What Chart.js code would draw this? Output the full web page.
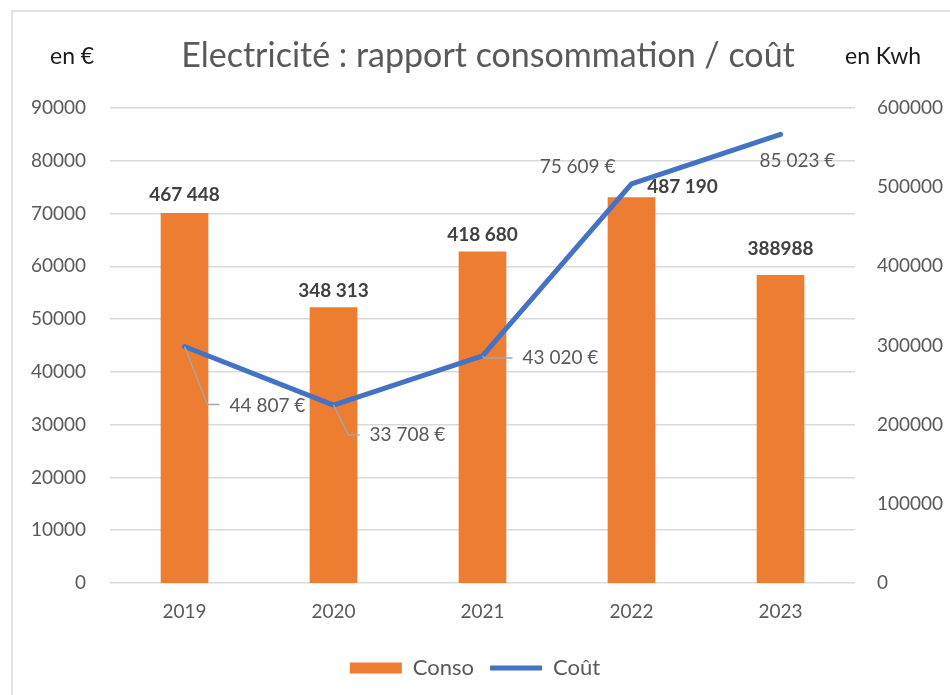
<!DOCTYPE html>
<html lang="fr">
<head>
<meta charset="UTF-8">
<title>Electricité : rapport consommation / coût</title>
<script src="https://cdn.jsdelivr.net/npm/chart.js"></script>
<style>
  body { margin: 0; background: #fff; }
</style>
</head>
<body>
<canvas id="elecChart" width="950" height="695"></canvas>
<script>
// données
const years = ['2019', '2020', '2021', '2022', '2023'];
const conso = [467448, 348313, 418680, 487190, 388988];   // en Kwh
const cout = [44807, 33708, 43020, 75609, 85023];         // en €
const consoLabels = ['467 448', '348 313', '418 680', '487 190', '388988'];
const coutLabels = ['44 807 €', '33 708 €', '43 020 €', '75 609 €', '85 023 €'];

const FONT = 'Lato, "Open Sans", sans-serif';

// placement des étiquettes (décalages en pixels par rapport au point)
const consoLabelShift = [[0, -9], [0, -7], [0, -7], [51, -1], [0, -17]];
const coutLabelShift = [
  { dx: 45, dy: 59, align: 'left', leader: [[23, 58], [35, 58]] },
  { dx: 36, dy: 30, align: 'left', leader: [[15, 30], [26, 30]] },
  { dx: 40, dy: 2, align: 'left', leader: [[2, 2], [30, 2]] },
  { dx: -16, dy: -17, align: 'right', leader: null },
  { dx: -21, dy: 27, align: 'left', leader: null }
];

const decorPlugin = {
  id: 'decor',
  beforeDraw(chart) {
    const ctx = chart.ctx;
    ctx.save();
    ctx.fillStyle = '#fff';
    ctx.fillRect(0, 0, chart.width, chart.height);
    // cadre gris clair
    ctx.strokeStyle = '#d9d9d9';
    ctx.lineWidth = 1.5;
    ctx.beginPath();
    ctx.moveTo(12, chart.height);
    ctx.lineTo(12, 11);
    ctx.lineTo(chart.width, 11);
    ctx.stroke();
    // titre et unités
    ctx.textBaseline = 'middle';
    ctx.textAlign = 'center';
    ctx.fillStyle = '#595959';
    ctx.font = '34px ' + FONT;
    ctx.fillText('Electricité : rapport consommation / coût', 488, 56);
    ctx.fillStyle = '#1a1a1a';
    ctx.font = '23px ' + FONT;
    ctx.textAlign = 'left';
    ctx.fillText('en €', 50, 57);
    ctx.fillText('en Kwh', 845, 57);
    ctx.restore();
  },
  afterDatasetsDraw(chart) {
    const ctx = chart.ctx;
    ctx.save();
    // étiquettes des barres
    const bars = chart.getDatasetMeta(0).data;
    ctx.font = 'bold 19px ' + FONT;
    ctx.fillStyle = '#404040';
    ctx.textAlign = 'center';
    ctx.textBaseline = 'bottom';
    bars.forEach((bar, i) => {
      const [dx, dy] = consoLabelShift[i];
      ctx.fillText(consoLabels[i], bar.x + dx, bar.y + dy);
    });
    // étiquettes de la courbe
    const pts = chart.getDatasetMeta(1).data;
    ctx.font = '19px ' + FONT;
    ctx.fillStyle = '#595959';
    ctx.textBaseline = 'middle';
    pts.forEach((pt, i) => {
      const s = coutLabelShift[i];
      if (s.leader) {
        ctx.strokeStyle = '#a6a6a6';
        ctx.lineWidth = 1.5;
        ctx.beginPath();
        ctx.moveTo(pt.x, pt.y);
        s.leader.forEach(([lx, ly]) => ctx.lineTo(pt.x + lx, pt.y + ly));
        ctx.stroke();
      }
      ctx.textAlign = s.align;
      ctx.fillText(coutLabels[i], pt.x + s.dx, pt.y + s.dy);
    });
    ctx.restore();
  }
};

const tickFont = { family: FONT, size: 19 };
const plain = v => String(v);

new Chart(document.getElementById('elecChart'), {
  data: {
    labels: years,
    datasets: [
      {
        type: 'bar',
        label: 'Conso',
        data: conso,
        yAxisID: 'y1',
        backgroundColor: '#ED7D31',
        borderWidth: 0,
        pointStyle: 'rect',
        barPercentage: 1,
        categoryPercentage: 0.32,
        order: 2
      },
      {
        type: 'line',
        label: 'Coût',
        data: cout,
        yAxisID: 'y',
        borderColor: '#4472C4',
        backgroundColor: '#4472C4',
        borderWidth: 5,
        borderCapStyle: 'round',
        borderJoinStyle: 'round',
        pointRadius: 0,
        pointStyle: 'line',
        tension: 0,
        order: 1
      }
    ]
  },
  options: {
    responsive: false,
    devicePixelRatio: 1,
    animation: false,
    layout: { padding: { top: 108, left: 0, right: 0, bottom: 6 } },
    plugins: {
      title: { display: false },
      tooltip: { enabled: false },
      legend: {
        position: 'bottom',
        labels: {
          usePointStyle: true,
          pointStyleWidth: 52,
          boxHeight: 11,
          padding: 16,
          color: '#595959',
          font: { family: FONT, size: 22 },
          sort: (a, b) => a.datasetIndex - b.datasetIndex
        }
      }
    },
    scales: {
      x: {
        grid: { display: false },
        border: { display: false },
        ticks: { color: '#595959', font: tickFont, padding: 9 },
        afterFit(scale) { scale.height = 58; }
      },
      y: {
        position: 'left',
        min: 0,
        max: 90000,
        ticks: { stepSize: 10000, color: '#595959', font: tickFont, padding: 24, callback: plain },
        grid: { color: '#d9d9d9', lineWidth: 1.5, drawTicks: false },
        border: { display: false },
        afterFit(scale) { scale.width = 110; }
      },
      y1: {
        position: 'right',
        min: 0,
        max: 600000,
        ticks: { stepSize: 100000, color: '#595959', font: tickFont, padding: 22, callback: plain },
        grid: { display: false, drawTicks: false },
        border: { display: false },
        afterFit(scale) { scale.width = 95; }
      }
    }
  },
  plugins: [decorPlugin]
});
</script>
</body>
</html>
